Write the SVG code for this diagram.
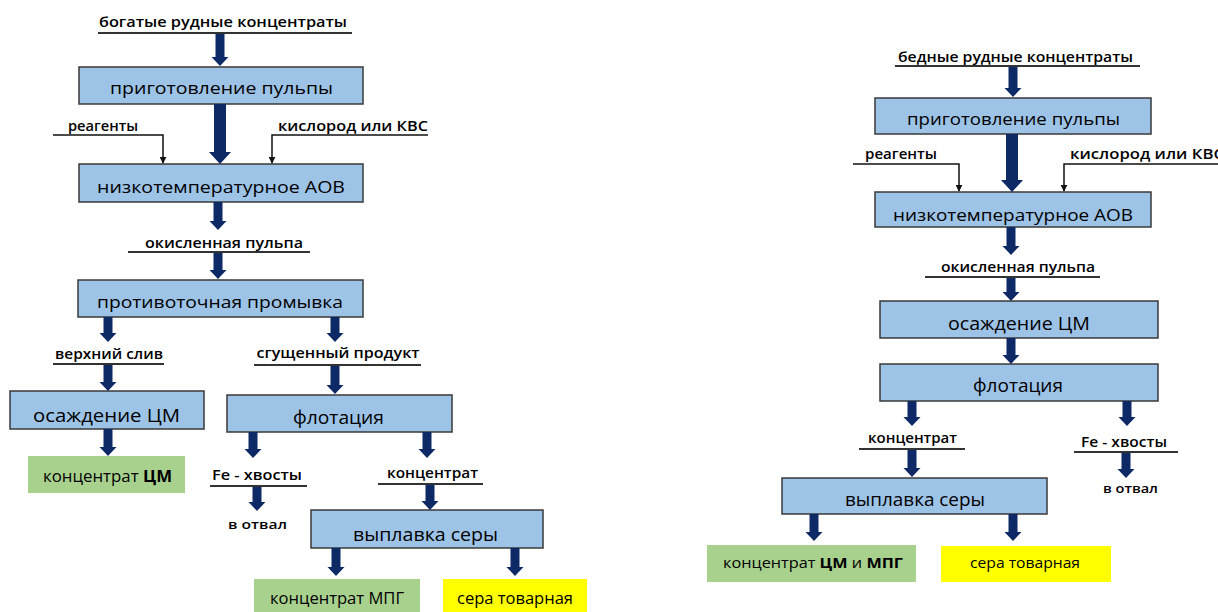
<svg xmlns="http://www.w3.org/2000/svg" width="1218" height="612" viewBox="0 0 1218 612">
<defs>
<style>
.box{fill:#9dc3e6;stroke:#3a3a3a;stroke-width:1.5}
.green{fill:#a9d18e}
.yellow{fill:#ffff00}
.t{font-family:"Open Sans","Noto Sans","Liberation Sans",sans-serif;fill:#000;text-anchor:middle}
.bt{font-size:17px}
.bb{font-size:19px}
.lab{font-size:14px;font-weight:600}
.sm{font-size:12px;font-weight:600}
.b{font-weight:700}
.ul{stroke:#333;stroke-width:2}
.arr{fill:#0d2a66}
.thin{fill:none;stroke:#111;stroke-width:1.5}
</style>
<marker id="ah" viewBox="0 0 10 10" refX="9" refY="5" markerWidth="7" markerHeight="7" markerUnits="userSpaceOnUse" orient="auto">
<path d="M0,0 L10,5 L0,10 z" fill="#111"/>
</marker>
</defs>

<!-- LEFT FLOW -->
<g id="L_in">
<text class="t lab" x="223" y="27" textLength="248" lengthAdjust="spacingAndGlyphs">богатые рудные концентраты</text>
<line class="ul" x1="98" y1="33" x2="352" y2="33"/>
</g>
<g id="L_prep">
<rect class="box" x="79" y="67" width="284" height="37"/>
<text class="t bt" x="221.5" y="94" textLength="223" lengthAdjust="spacingAndGlyphs">приготовление пульпы</text>
</g>
<g id="L_reag">
<text class="t lab" x="103" y="131" textLength="70" lengthAdjust="spacingAndGlyphs">реагенты</text>
</g>
<g id="L_oxy">
<text class="t lab" x="353" y="131" textLength="150" lengthAdjust="spacingAndGlyphs">кислород или КВС</text>
</g>
<g id="L_aov">
<rect class="box" x="79" y="164" width="284" height="38"/>
<text class="t bt" x="221" y="193" textLength="248" lengthAdjust="spacingAndGlyphs">низкотемпературное АОВ</text>
</g>
<g id="L_oxpulp">
<text class="t lab" x="224" y="248" textLength="158" lengthAdjust="spacingAndGlyphs">окисленная пульпа</text>
<line class="ul" x1="128" y1="252" x2="310" y2="252"/>
</g>
<g id="L_wash">
<rect class="box" x="78" y="280" width="285" height="37"/>
<text class="t bt" x="220" y="308" textLength="246" lengthAdjust="spacingAndGlyphs">противоточная промывка</text>
</g>
<g id="L_over">
<text class="t lab" x="109" y="359" textLength="108" lengthAdjust="spacingAndGlyphs">верхний слив</text>
<line class="ul" x1="53" y1="364" x2="164" y2="364"/>
</g>
<g id="L_thick">
<text class="t lab" x="338" y="358" textLength="163" lengthAdjust="spacingAndGlyphs">сгущенный продукт</text>
<line class="ul" x1="254" y1="365" x2="421" y2="365"/>
</g>
<g id="L_prec">
<rect class="box" x="10" y="391" width="194" height="38"/>
<text class="t bb" x="106.5" y="422" textLength="147" lengthAdjust="spacingAndGlyphs">осаждение ЦМ</text>
</g>
<g id="L_conccm">
<rect class="green" x="28" y="456" width="157" height="37"/>
<text class="t" font-size="16" x="107.5" y="482" textLength="129" lengthAdjust="spacingAndGlyphs">концентрат <tspan class="b">ЦМ</tspan></text>
</g>
<g id="L_flot">
<rect class="box" x="227" y="395" width="225" height="37"/>
<text class="t bb" x="338.5" y="424" textLength="91" lengthAdjust="spacingAndGlyphs">флотация</text>
</g>
<g id="L_fe">
<text class="t lab" x="257" y="480" textLength="90" lengthAdjust="spacingAndGlyphs">Fe - хвосты</text>
<line class="ul" x1="210" y1="486" x2="307" y2="486"/>
</g>
<g id="L_dump">
<text class="t sm" x="257.5" y="529" textLength="59" lengthAdjust="spacingAndGlyphs">в отвал</text>
</g>
<g id="L_conc">
<text class="t lab" x="432.5" y="478" textLength="91" lengthAdjust="spacingAndGlyphs">концентрат</text>
<line class="ul" x1="378" y1="484" x2="483" y2="484"/>
</g>
<g id="L_melt">
<rect class="box" x="311" y="510" width="232" height="38"/>
<text class="t bb" x="425.5" y="541" textLength="145" lengthAdjust="spacingAndGlyphs">выплавка серы</text>
</g>
<g id="L_mpg">
<rect class="green" x="254" y="579" width="166" height="34"/>
<text class="t" font-size="16" x="337" y="604" textLength="134" lengthAdjust="spacingAndGlyphs">концентрат МПГ</text>
</g>
<g id="L_sulf">
<rect class="yellow" x="443" y="579" width="144" height="34"/>
<text class="t" font-size="16" x="515" y="604" textLength="116" lengthAdjust="spacingAndGlyphs">сера товарная</text>
</g>

<!-- RIGHT FLOW -->
<g id="R_in">
<text class="t lab" x="1015.5" y="62" textLength="235" lengthAdjust="spacingAndGlyphs">бедные рудные концентраты</text>
<line class="ul" x1="895" y1="66" x2="1140" y2="66"/>
</g>
<g id="R_prep">
<rect class="box" x="875" y="98" width="276" height="36"/>
<text class="t bt" x="1013.5" y="125" textLength="213" lengthAdjust="spacingAndGlyphs">приготовление пульпы</text>
</g>
<g id="R_reag">
<text class="t lab" x="901" y="159" textLength="72" lengthAdjust="spacingAndGlyphs">реагенты</text>
</g>
<g id="R_oxy">
<text class="t lab" x="1147" y="159" textLength="154" lengthAdjust="spacingAndGlyphs">кислород или КВС</text>
</g>
<g id="R_aov">
<rect class="box" x="875" y="192" width="276" height="35"/>
<text class="t bt" x="1013" y="221" textLength="240" lengthAdjust="spacingAndGlyphs">низкотемпературное АОВ</text>
</g>
<g id="R_oxpulp">
<text class="t lab" x="1018" y="272" textLength="154" lengthAdjust="spacingAndGlyphs">окисленная пульпа</text>
<line class="ul" x1="925" y1="277" x2="1100" y2="277"/>
</g>
<g id="R_prec">
<rect class="box" x="880" y="301" width="278" height="37"/>
<text class="t bb" x="1019" y="330" textLength="142" lengthAdjust="spacingAndGlyphs">осаждение ЦМ</text>
</g>
<g id="R_flot">
<rect class="box" x="880" y="364" width="278" height="37"/>
<text class="t bb" x="1018" y="392" textLength="90" lengthAdjust="spacingAndGlyphs">флотация</text>
</g>
<g id="R_conc">
<text class="t lab" x="912.5" y="443" textLength="89" lengthAdjust="spacingAndGlyphs">концентрат</text>
<line class="ul" x1="859" y1="449" x2="965" y2="449"/>
</g>
<g id="R_fe">
<text class="t lab" x="1124" y="447" textLength="86" lengthAdjust="spacingAndGlyphs">Fe - хвосты</text>
<line class="ul" x1="1074" y1="452" x2="1178" y2="452" stroke="#777"/>
</g>
<g id="R_dump">
<text class="t sm" font-size="11" x="1130.5" y="493" textLength="55" lengthAdjust="spacingAndGlyphs">в отвал</text>
</g>
<g id="R_melt">
<rect class="box" x="782" y="478" width="265" height="36"/>
<text class="t bb" x="915" y="506" textLength="140" lengthAdjust="spacingAndGlyphs">выплавка серы</text>
</g>
<g id="R_cmmpg">
<rect class="green" x="707" y="545" width="209" height="37"/>
<text class="t" font-size="15" x="813" y="568" textLength="180" lengthAdjust="spacingAndGlyphs">концентрат <tspan class="b">ЦМ</tspan> и <tspan class="b">МПГ</tspan></text>
</g>
<g id="R_sulf">
<rect class="yellow" x="941" y="546" width="170" height="36"/>
<text class="t" font-size="15" x="1025" y="568" textLength="110" lengthAdjust="spacingAndGlyphs">сера товарная</text>
</g>

<!-- CONNECTORS -->
<g id="connectors">
<polygon class="arr" points="215.5,34 224.5,34 224.5,57 228.5,57 220,66 211.5,57 215.5,57"/>
<polygon class="arr" points="214,104 226,104 226,152 231,152 220,164 209,152 214,152"/>
<polygon class="arr" points="213.5,202 222.5,202 222.5,221 226.5,221 218,230 209.5,221 213.5,221"/>
<polygon class="arr" points="213.5,253 222.5,253 222.5,270 226.5,270 218,279 209.5,270 213.5,270"/>
<polygon class="arr" points="103.5,317 112.5,317 112.5,333 116.5,333 108,342 99.5,333 103.5,333"/>
<polygon class="arr" points="330.5,317 339.5,317 339.5,333 343.5,333 335,342 326.5,333 330.5,333"/>
<polygon class="arr" points="103.5,365 112.5,365 112.5,382 116.5,382 108,391 99.5,382 103.5,382"/>
<polygon class="arr" points="330.5,366 339.5,366 339.5,385 343.5,385 335,394 326.5,385 330.5,385"/>
<polygon class="arr" points="103.5,429 112.5,429 112.5,447 116.5,447 108,456 99.5,447 103.5,447"/>
<polygon class="arr" points="248.5,432 257.5,432 257.5,449 261.5,449 253,458 244.5,449 248.5,449"/>
<polygon class="arr" points="422.5,432 431.5,432 431.5,449 435.5,449 427,458 418.5,449 422.5,449"/>
<polygon class="arr" points="252.5,487 261.5,487 261.5,502 265.5,502 257,511 248.5,502 252.5,502"/>
<polygon class="arr" points="425.5,485 434.5,485 434.5,501 438.5,501 430,510 421.5,501 425.5,501"/>
<polygon class="arr" points="331.5,548 340.5,548 340.5,567 344.5,567 336,576 327.5,567 331.5,567"/>
<polygon class="arr" points="510.5,548 519.5,548 519.5,567 523.5,567 515,576 506.5,567 510.5,567"/>
<path class="thin" d="M53,135 H163 V163" marker-end="url(#ah)"/>
<path class="thin" d="M428,135 H272 V163" marker-end="url(#ah)"/>

<polygon class="arr" points="1008.5,67 1017.5,67 1017.5,88 1021.5,88 1013,97 1004.5,88 1008.5,88"/>
<polygon class="arr" points="1006,134 1018,134 1018,180 1023,180 1012,192 1001,180 1006,180"/>
<polygon class="arr" points="1006.5,227 1015.5,227 1015.5,246 1019.5,246 1011,255 1002.5,246 1006.5,246"/>
<polygon class="arr" points="1006.5,278 1015.5,278 1015.5,292 1019.5,292 1011,301 1002.5,292 1006.5,292"/>
<polygon class="arr" points="1006.5,338 1015.5,338 1015.5,355 1019.5,355 1011,364 1002.5,355 1006.5,355"/>
<polygon class="arr" points="907.5,401 916.5,401 916.5,417 920.5,417 912,426 903.5,417 907.5,417"/>
<polygon class="arr" points="1122.5,401 1131.5,401 1131.5,417 1135.5,417 1127,426 1118.5,417 1122.5,417"/>
<polygon class="arr" points="907.5,450 916.5,450 916.5,468 920.5,468 912,477 903.5,468 907.5,468"/>
<polygon class="arr" points="1121.5,453 1130.5,453 1130.5,469 1134.5,469 1126,478 1117.5,469 1121.5,469"/>
<polygon class="arr" points="809.5,514 818.5,514 818.5,532 822.5,532 814,541 805.5,532 809.5,532"/>
<polygon class="arr" points="1008.5,514 1017.5,514 1017.5,532 1021.5,532 1013,541 1004.5,532 1008.5,532"/>
<path class="thin" d="M853,164 H959 V191" marker-end="url(#ah)"/>
<path class="thin" d="M1218,164 H1064 V191" marker-end="url(#ah)"/>
</g>
</svg>
